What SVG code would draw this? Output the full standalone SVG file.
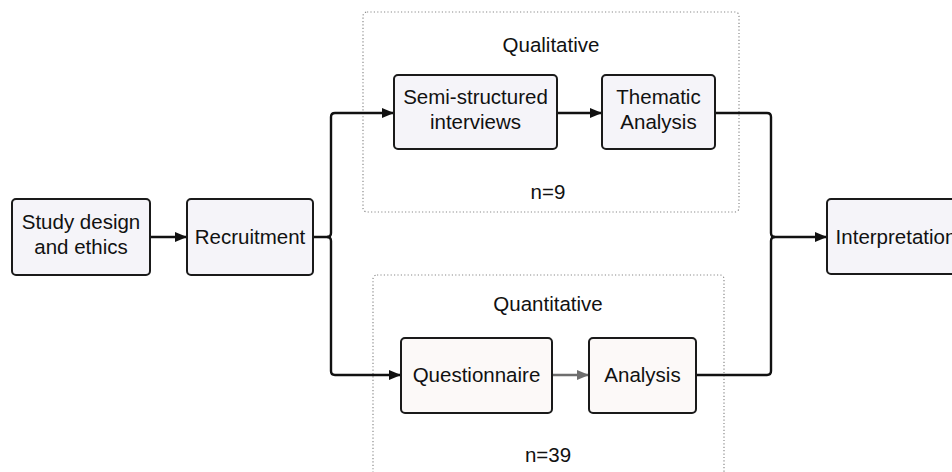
<svg xmlns="http://www.w3.org/2000/svg" width="952" height="472" viewBox="0 0 952 472">
  <defs>
    <marker id="arrow" viewBox="0 0 12 10" refX="12" refY="5" markerWidth="12" markerHeight="10" markerUnits="userSpaceOnUse" orient="auto">
      <path d="M0,0 L12,5 L0,10 Z" fill="#111"/>
    </marker>
    <marker id="arrowGray" viewBox="0 0 12 10" refX="12" refY="5" markerWidth="12" markerHeight="10" markerUnits="userSpaceOnUse" orient="auto">
      <path d="M0,0 L12,5 L0,10 Z" fill="#6e6e6e"/>
    </marker>
    <style>
      text { font-family: "Liberation Sans", Arial, sans-serif; font-size: 20.5px; fill: #111; text-anchor: middle; }
      .node { fill: #f5f4f9; stroke: #1a1a1a; stroke-width: 2; }
      .nodeWarm { fill: #fcf9f8; stroke: #1a1a1a; stroke-width: 2; }
      .group { fill: none; stroke: #8a8a8a; stroke-width: 1.2; stroke-dasharray: 1.2 2.2; }
      .edge { fill: none; stroke: #111; stroke-width: 2.4; stroke-linejoin: round; }
      .edgeGray { fill: none; stroke: #6e6e6e; stroke-width: 2.4; }
    </style>
  </defs>
  <rect width="952" height="472" fill="#ffffff"/>

  <!-- dotted container groups -->
  <g id="qualitative">
    <rect class="group" x="363" y="12" width="376" height="200" rx="4"/>
    <text x="551" y="52">Qualitative</text>
    <text x="548" y="199">n=9</text>
  </g>
  <g id="quantitative">
    <rect class="group" x="373" y="275" width="351" height="210" rx="4"/>
    <text x="548" y="311">Quantitative</text>
    <text x="548" y="462">n=39</text>
  </g>

  <!-- connectors -->
  <g id="connectors">
    <path class="edge" d="M150,237 H187" marker-end="url(#arrow)"/>
    <path class="edge" d="M313,237 H327 Q331,237 331,233 V117 Q331,113 335,113 H394" marker-end="url(#arrow)"/>
    <path class="edge" d="M327,237 Q331,237 331,241 V371 Q331,375 335,375 H401" marker-end="url(#arrow)"/>
    <path class="edge" d="M557,113 H602" marker-end="url(#arrow)"/>
    <path class="edgeGray" d="M552,375 H589" marker-end="url(#arrowGray)"/>
    <path class="edge" d="M715,113 H767 Q771,113 771,117 V233 Q771,237 775,237 H827" marker-end="url(#arrow)"/>
    <path class="edge" d="M696,375 H767 Q771,375 771,371 V241 Q771,237 775,237"/>
  </g>

  <!-- nodes -->
  <g id="study-design">
    <rect class="node" x="12" y="199" width="138" height="76" rx="4"/>
    <text x="81" y="229">Study design</text>
    <text x="81" y="254">and ethics</text>
  </g>
  <g id="recruitment">
    <rect class="node" x="187" y="199" width="126" height="76" rx="4"/>
    <text x="250" y="244">Recruitment</text>
  </g>
  <g id="semi-structured">
    <rect class="node" x="394" y="75" width="163" height="74" rx="4"/>
    <text x="475.5" y="104">Semi-structured</text>
    <text x="475.5" y="129">interviews</text>
  </g>
  <g id="thematic">
    <rect class="node" x="602" y="75" width="113" height="74" rx="4"/>
    <text x="658.5" y="104">Thematic</text>
    <text x="658.5" y="129">Analysis</text>
  </g>
  <g id="questionnaire">
    <rect class="nodeWarm" x="401" y="338" width="151" height="75" rx="4"/>
    <text x="476.5" y="382">Questionnaire</text>
  </g>
  <g id="analysis">
    <rect class="nodeWarm" x="589" y="338" width="107" height="75" rx="4"/>
    <text x="642.5" y="382">Analysis</text>
  </g>
  <g id="interpretation">
    <rect class="node" x="827" y="199" width="140" height="75" rx="4"/>
    <text x="896" y="244">Interpretation</text>
  </g>
</svg>
